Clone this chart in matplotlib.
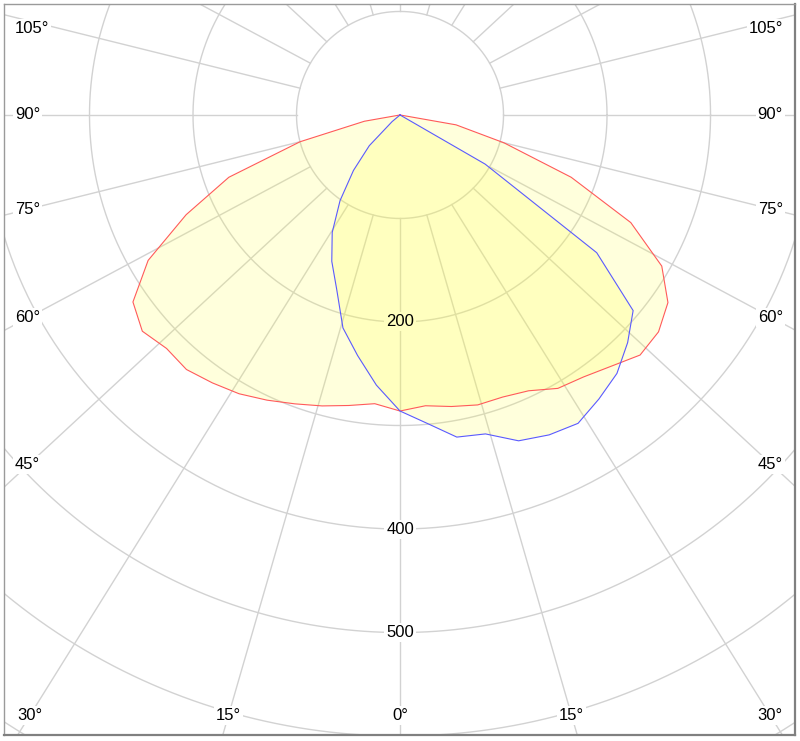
import matplotlib
matplotlib.use("Agg")
import matplotlib.pyplot as plt
import numpy as np

plt.rcParams["font.family"] = ["Liberation Sans", "DejaVu Sans"]

# gamma angles (deg from nadir) and intensities (cd)
gamma = [0, 5, 10, 15, 20, 25, 30, 35, 40, 45, 50, 55, 60, 65, 70, 75, 80, 85, 90]

# plane C0-C180 (red)
red_left = [286, 280, 285, 291, 297, 304, 311, 316, 321, 319, 325, 315, 281, 228, 176, 100, 35, 0, 0]
red_right = [285, 282, 286, 290, 290, 294, 305, 309, 317, 328, 326, 316, 292, 246, 176, 104, 55, 0, 0]

# plane C90-C270 (blue)
blue_left = [286, 262, 236, 213, 179, 156, 131, 101, 70, 42, 10, 0, 0, 0, 0, 0, 0, 0, 0]
blue_right = [286, 299, 316, 319, 335, 341, 344, 335, 326, 311, 294, 232, 95, 0, 0, 0, 0, 0, 0]

ring_values = [100, 200, 300, 400, 500, 600, 700, 800]
ring_labels = [200, 400, 500]
grid_angles = [0, 15, 30, 45, 60, 75, 90, 105, 120, 135, 150, 165, 180]
angle_labels = [0, 15, 30, 45, 60, 75, 90, 105]

grid_col = "#d2d2d2"
k = 800 / 741  # outer end of the spokes is stretched sideways


def half_xy(g, r, side):
    t = np.radians(np.asarray(g, dtype=float))
    r = np.asarray(r, dtype=float)
    return side * r * np.sin(t), -r * np.cos(t)


def curve_xy(left, right):
    xl, yl = half_xy(gamma, left, -1)
    xr, yr = half_xy(gamma, right, 1)
    x = np.concatenate([xl[::-1], xr[1:]])
    y = np.concatenate([yl[::-1], yr[1:]])
    return x, y


fig = plt.figure(figsize=(8, 7.41), dpi=100)
ax = fig.add_axes([4 / 800, 6 / 741, 791 / 800, 731 / 741])
ax.set_xlim(-382.6, 381.6)
ax.set_ylim(-599.0, 107.2)
ax.set_xticks([])
ax.set_yticks([])
for name, sp in ax.spines.items():
    sp.set_color("#9a9a9a")
    sp.set_linewidth(1.0)
ax.spines["right"].set_color("#808080")
ax.spines["bottom"].set_color("#808080")
ax.spines["right"].set_linewidth(1.6)
ax.spines["bottom"].set_linewidth(1.6)

# rings
th = np.linspace(0, 2 * np.pi, 721)
for v in ring_values:
    ax.plot(v * np.cos(th), v * np.sin(th), color=grid_col, lw=1.0, zorder=1)

# spokes, starting at the 100 ring
for a in grid_angles:
    sides = [1] if a in (0, 180) else [-1, 1]
    for s in sides:
        t = np.radians(a)
        x0, y0 = s * 100 * np.sin(t), -100 * np.cos(t)
        dx, dy = s * k * np.sin(t), -np.cos(t)
        ax.plot([x0, x0 + 2000 * dx], [y0, y0 + 2000 * dy],
                color=grid_col, lw=1.0, zorder=1)

lab_kw = dict(fontsize=12, va="center")
box = dict(facecolor="white", edgecolor="none", pad=1.5)


def put_label(x, y, txt, ha):
    # white box under the fills to break the grid, text on top
    ax.text(x, y, txt, ha=ha, color="white", bbox=box, zorder=2, **lab_kw)
    ax.text(x, y, txt, ha=ha, color="black", zorder=6, **lab_kw)


x_side = 359.4
y_bot = -579.7
for a in angle_labels:
    sides = [1] if a == 0 else [-1, 1]
    for s in sides:
        t = np.radians(a)
        x0, y0 = s * 100 * np.sin(t), -100 * np.cos(t)
        dx, dy = s * k * np.sin(t), -np.cos(t)
        t_side = (s * x_side - x0) / dx if dx != 0 else np.inf
        t_bot = (y_bot - y0) / dy if dy < 0 else np.inf
        if t_side < t_bot:
            y = min(y0 + t_side * dy, 84)
            if s < 0:
                put_label(-372, y, f"{a}°", "left")
            else:
                put_label(370, y, f"{a}°", "right")
        else:
            x = x0 + t_bot * dx
            put_label(x, y_bot, f"{a}°", "center")

for v in ring_labels:
    put_label(0, -v, str(v), "center")

# intensity curves
xr, yr = curve_xy(red_left, red_right)
xb, yb = curve_xy(blue_left, blue_right)
ax.fill(xr, yr, color="#ffff40", alpha=0.18, lw=0, zorder=3)
ax.fill(xb, yb, color="#ffff40", alpha=0.18, lw=0, zorder=3)
ax.plot(xr, yr, color="#ff5a5a", lw=0.8, zorder=4)
ax.plot(xb, yb, color="#5a5aff", lw=0.8, zorder=4)

fig.savefig("out.png", dpi=100)
